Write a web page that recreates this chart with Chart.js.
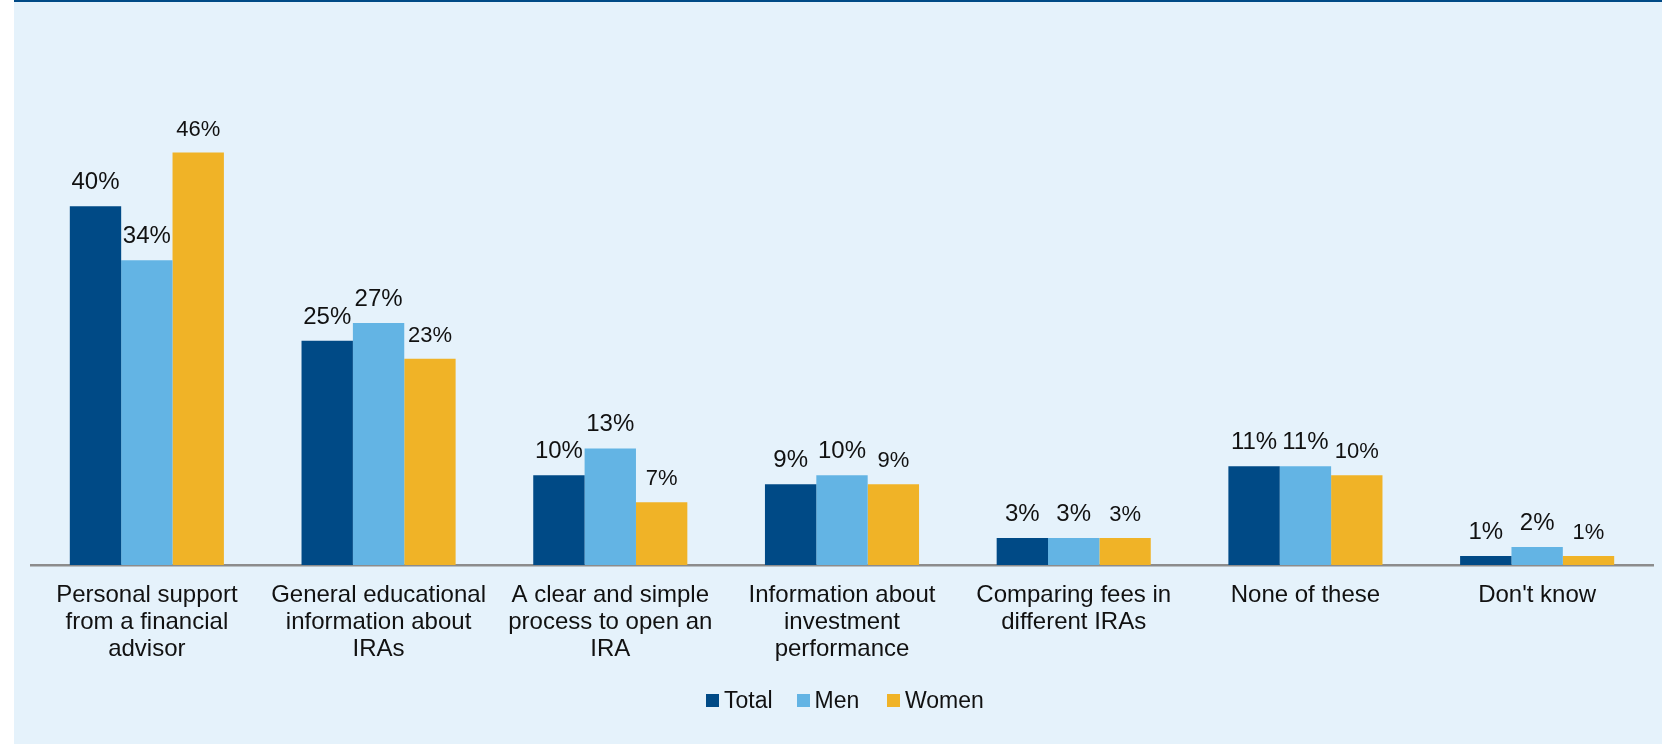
<!DOCTYPE html>
<html>
<head>
<meta charset="utf-8">
<script src="https://cdn.jsdelivr.net/npm/chart.js@4/dist/chart.umd.min.js"></script>
<style>
  html, body { margin: 0; padding: 0; background: #fff; overflow: hidden; }
  #panel { position: absolute; left: 14px; top: 0; width: 1648px; height: 742px; background: #e5f2fb; border-top: 2px solid #004a86; }
  #wrap { position: absolute; left: 0; top: 0; width: 1662px; height: 744px; }
  .key { position: absolute; left: 706px; top: 687px; display: flex; font: 23px 'Liberation Sans', Arial, sans-serif; color: #111; }
  .key .item { display: flex; align-items: center; min-width: 90.5px; white-space: nowrap; }
  .key i { display: inline-block; flex: 0 0 13px; width: 13px; height: 13px; margin-right: 5px; }
</style>
</head>
<body>
<div id="panel"></div>
<div id="wrap"><canvas id="ira"></canvas></div>
<div class="key" id="key"></div>
<script>
const categories = [
  ['Personal support', 'from a financial', 'advisor'],
  ['General educational', 'information about', 'IRAs'],
  ['A clear and simple', 'process to open an', 'IRA'],
  ['Information about', 'investment', 'performance'],
  ['Comparing fees in', 'different IRAs'],
  'None of these',
  "Don't know",
];
const seriesNames = ['Total', 'Men', 'Women'];
const totalPct = [40, 25, 10, 9, 3, 11, 1];
const menPct = [34, 27, 13, 10, 3, 11, 2];
const womenPct = [46, 23, 7, 9, 3, 10, 1];

const cTotal = '#004a86';
const cMen = '#63b4e4';
const cWomen = '#f0b327';
const FONT = "'Liberation Sans', Arial, sans-serif";

// value labels above every bar
const barLabels = {
  id: 'barLabels',
  afterDatasetsDraw(chart) {
    const ctx = chart.ctx;
    chart.data.datasets.forEach((ds, i) => {
      const meta = chart.getDatasetMeta(i);
      ctx.save();
      ctx.font = `${ds.labelSize}px ${FONT}`;
      ctx.fillStyle = '#111';
      ctx.textAlign = 'center';
      ctx.textBaseline = 'alphabetic';
      meta.data.forEach((bar, j) => {
        ctx.fillText(ds.data[j] + '%', bar.x, bar.y - 17);
      });
      ctx.restore();
    });
  },
};

const data = {
  labels: categories,
  datasets: [
    { label: seriesNames[0], data: totalPct, backgroundColor: cTotal, labelSize: 24 },
    { label: seriesNames[1], data: menPct, backgroundColor: cMen, labelSize: 24 },
    { label: seriesNames[2], data: womenPct, backgroundColor: cWomen, labelSize: 22 },
  ],
};

const options = {
  responsive: true,
  maintainAspectRatio: false,
  animation: false,
  layout: { padding: { top: 27, left: 31, right: 9, bottom: 0 } },
  categoryPercentage: 0.665,
  barPercentage: 1,
  scales: {
    x: {
      grid: { display: false, drawTicks: false },
      border: { display: true, color: '#8c8c8c', width: 2.5 },
      ticks: {
        color: '#111',
        font: { family: FONT, size: 24, lineHeight: 1.12 },
        padding: 17,
        maxRotation: 0,
        autoSkip: false,
      },
      afterFit(scale) { scale.height = 179; },
    },
    y: { display: false, min: 0, max: 60 },
  },
  plugins: {
    legend: { display: false },
    tooltip: { enabled: false },
  },
};

new Chart(document.getElementById('ira'), {
  type: 'bar',
  data,
  options,
  plugins: [barLabels],
});

// legend row under the chart
const key = document.getElementById('key');
data.datasets.forEach((ds) => {
  const item = document.createElement('span');
  item.className = 'item';
  item.innerHTML = `<i style="background:${ds.backgroundColor}"></i>${ds.label}`;
  key.append(item);
});
</script>
</body>
</html>
